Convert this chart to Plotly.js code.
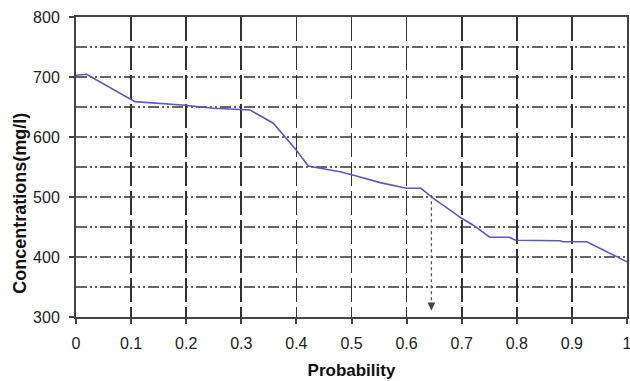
<!DOCTYPE html>
<html>
<head>
<meta charset="utf-8">
<script src="https://cdn.plot.ly/plotly-3.0.1.min.js"></script>
<style>html,body{margin:0;padding:0;background:#fff;}#chart{width:630px;height:381px;}</style>
</head>
<body>
<div id="chart"></div>
<script>
// Curve: probability vs concentration (mg/l)
const probability = [0, 0.019, 0.107, 0.198, 0.249, 0.298, 0.316, 0.358, 0.379, 0.40, 0.4216, 0.479, 0.509, 0.552, 0.60, 0.626, 0.648, 0.70, 0.721, 0.751, 0.786, 0.798, 0.878, 0.884, 0.927, 0.963, 0.993, 1.0];
const concentration = [703, 704.5, 659, 653, 648, 645, 645, 623, 600.5, 578, 551.7, 542, 535, 524, 514.5, 514.5, 498, 464.5, 453, 433, 433, 428, 427, 425.5, 425.5, 409, 395, 392];
// Dotted arrow marking the reading
const arrowX = [0.645, 0.645];
const arrowY = [503, 313];
const xTicks = [0, 0.1, 0.2, 0.3, 0.4, 0.5, 0.6, 0.7, 0.8, 0.9, 1];
const xTickText = ["0", "0.1", "0.2", "0.3", "0.4", "0.5", "0.6", "0.7", "0.8", "0.9", "1"];
const yTicks = [300, 400, 500, 600, 700, 800];
const yGrid = [350, 400, 450, 500, 550, 600, 650, 700, 750];
const yTitle = 'Concentrations(mg/l)';
const xTitle = 'Probability';

const traces = [
  {x: probability, y: concentration, mode: 'lines', type: 'scatter',
   line: {color: '#5a5ab8', width: 1.6}, hoverinfo: 'skip', showlegend: false},
  {x: arrowX, y: arrowY, mode: 'lines', type: 'scatter',
   line: {color: '#555', width: 1.3, dash: 'dot'}, hoverinfo: 'skip', showlegend: false}
];

const shapes = yGrid.map(v => ({
  type: 'line', xref: 'paper', x0: 0, x1: 1, yref: 'y', y0: v, y1: v,
  line: {color: '#333', width: 1.7, dash: '11px,3px,2px,3px,2px,3px'}, layer: 'below'
}));

const layout = {
  width: 630, height: 381,
  margin: {l: 76, r: 3, t: 17, b: 64},
  paper_bgcolor: '#fff', plot_bgcolor: '#fff',
  font: {family: 'Liberation Sans, Arial, sans-serif', size: 16, color: '#222'},
  showlegend: false,
  xaxis: {
    range: [0, 1], tickvals: xTicks, ticktext: xTickText,
    showgrid: true, gridcolor: '#333', gridwidth: 1.7, griddash: '24px,5px',
    zeroline: false, showline: true, linecolor: '#444', linewidth: 2, mirror: true,
    ticks: 'outside', ticklen: 5, tickwidth: 2, tickcolor: '#444',
    ticklabelstandoff: 6, ticklabeloverflow: 'allow',
    title: {text: xTitle, font: {size: 17, weight: 'bold', color: '#111'}, standoff: 13}
  },
  yaxis: {
    range: [300, 800], tickvals: yTicks,
    showgrid: false, zeroline: false, showline: true, linecolor: '#444', linewidth: 2, mirror: true,
    ticks: 'outside', ticklen: 5, tickwidth: 2, tickcolor: '#444',
    ticklabelstandoff: 6
  },
  shapes: shapes,
  annotations: [
    {x: 0.645, y: 311, xref: 'x', yref: 'y', ax: 0, ay: -7,
     showarrow: true, arrowhead: 2, arrowsize: 1.2, arrowwidth: 1.3, arrowcolor: '#444', text: ''},
    {x: -0.102, y: 0.38, xref: 'paper', yref: 'paper', xanchor: 'center', yanchor: 'middle',
     showarrow: false, textangle: -90, text: yTitle,
     font: {size: 18, weight: 'bold', color: '#111'}}
  ]
};

Plotly.newPlot('chart', traces, layout, {displayModeBar: false, staticPlot: true});
</script>
</body>
</html>
